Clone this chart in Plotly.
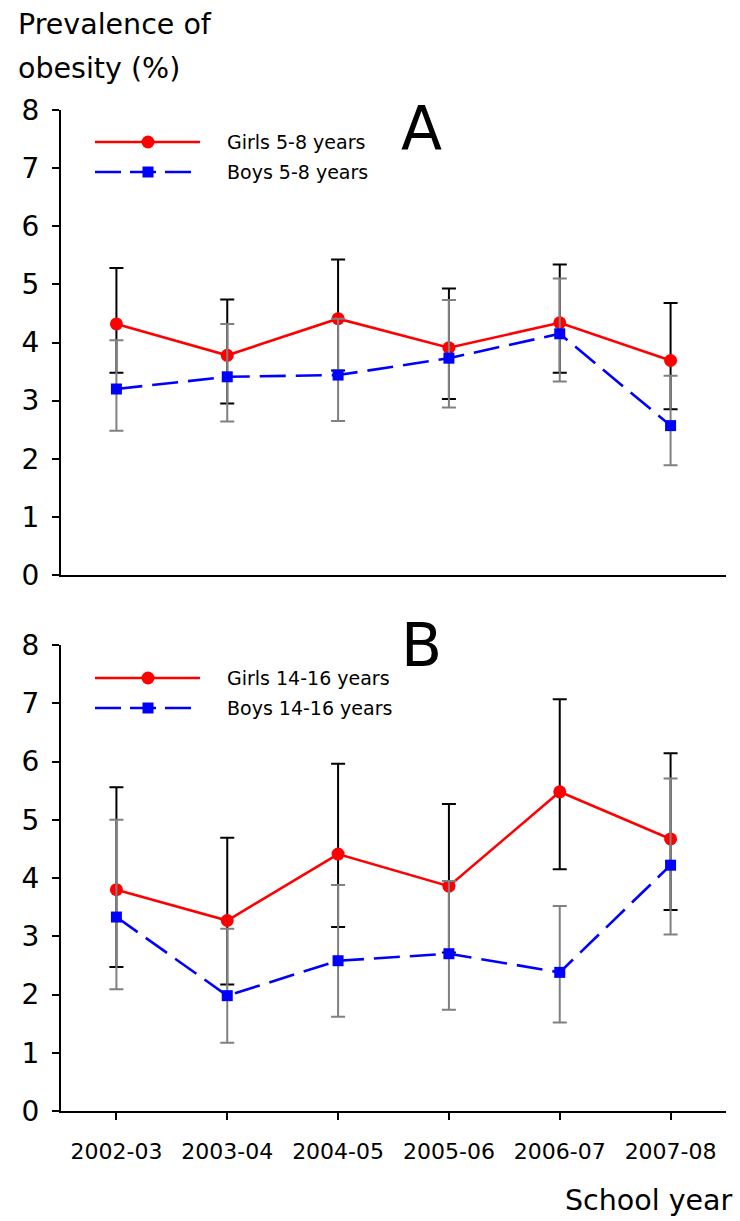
import plotly.graph_objects as go

years = ["2002-03", "2003-04", "2004-05", "2005-06", "2006-07", "2007-08"]

girls_a = [4.32, 3.78, 4.41, 3.91, 4.34, 3.69]
girls_a_hi = [5.28, 4.74, 5.43, 4.93, 5.34, 4.68]
girls_a_lo = [3.48, 2.95, 3.52, 3.03, 3.48, 2.85]
boys_a = [3.20, 3.41, 3.44, 3.73, 4.15, 2.57]
boys_a_hi = [4.04, 4.32, 4.41, 4.73, 5.10, 3.43]
boys_a_lo = [2.48, 2.64, 2.65, 2.88, 3.33, 1.89]

girls_b = [3.80, 3.27, 4.41, 3.86, 5.48, 4.67]
girls_b_hi = [5.56, 4.69, 5.96, 5.27, 7.07, 6.14]
girls_b_lo = [2.47, 2.17, 3.16, 2.72, 4.15, 3.45]
boys_b = [3.33, 1.98, 2.58, 2.70, 2.38, 4.22]
boys_b_hi = [5.00, 3.13, 3.88, 3.95, 3.52, 5.71]
boys_b_lo = [2.09, 1.17, 1.62, 1.74, 1.52, 3.03]

legend_a = ["Girls 5-8 years", "Boys 5-8 years"]
legend_b = ["Girls 14-16 years", "Boys 14-16 years"]
y_ticks = [0, 1, 2, 3, 4, 5, 6, 7, 8]

FONT = "DejaVu Sans"
W, H = 740, 1221
ML, MR, MT, MB = 61, 14, 110, 110
PW = W - ML - MR
PH = H - MT - MB

def px_x(p):
    return (p - ML) / PW

def px_y(p):
    return (H - MB - p) / PH

RED = "#ff0000"
BLUE = "#0000ff"
GRAY = "#808080"

fig = go.Figure()

def add_series(vals, hi, lo, color, dash, symbol, msize, ecolor, xa, ya):
    fig.add_trace(go.Scatter(
        x=years, y=vals, xaxis=xa, yaxis=ya, mode="lines+markers",
        line=dict(color=color, width=2.6, dash=dash),
        marker=dict(color=color, size=msize, symbol=symbol),
        error_y=dict(type="data", symmetric=False,
                     array=[h - v for h, v in zip(hi, vals)],
                     arrayminus=[v - l for v, l in zip(vals, lo)],
                     color=ecolor, thickness=2, width=7),
        showlegend=False, cliponaxis=False))

add_series(girls_a, girls_a_hi, girls_a_lo, RED, "solid", "circle", 13, "#000000", "x", "y")
add_series(boys_a, boys_a_hi, boys_a_lo, BLUE, "26px,10px", "square", 11, GRAY, "x", "y")
add_series(girls_b, girls_b_hi, girls_b_lo, RED, "solid", "circle", 13, "#000000", "x2", "y2")
add_series(boys_b, boys_b_hi, boys_b_lo, BLUE, "26px,10px", "square", 11, GRAY, "x2", "y2")

dom_a = [px_y(575), px_y(110)]
dom_b = [px_y(1111), px_y(645)]

yax = dict(range=[0, 8], tickvals=y_ticks, showline=True, linecolor="black", linewidth=2,
           ticks="outside", ticklen=7, tickwidth=1.5, tickcolor="black", showgrid=False,
           zeroline=False, tickfont=dict(family=FONT, size=28, color="black"),
           ticklabelstandoff=7)
fig.update_layout(
    width=W, height=H, margin=dict(l=ML, r=MR, t=MT, b=MB),
    paper_bgcolor="white", plot_bgcolor="white",
    font=dict(family=FONT, color="black"),
    xaxis=dict(domain=[0, 1], range=[-0.5, 5.5], type="category", showline=True,
               linecolor="black", linewidth=2, showticklabels=False, ticks="",
               showgrid=False, zeroline=False, anchor="y"),
    yaxis=dict(domain=dom_a, anchor="x", **yax),
    xaxis2=dict(domain=[0, 1], range=[-0.5, 5.5], type="category", showline=True,
                linecolor="black", linewidth=2, ticks="outside", ticklen=7, tickwidth=1.5,
                tickcolor="black", showgrid=False, zeroline=False, anchor="y2",
                tickfont=dict(family=FONT, size=22, color="black"), ticklabelstandoff=13),
    yaxis2=dict(domain=dom_b, anchor="x2", **yax),
)

shapes = []
annotations = []

def legend_block(y1, y2, labels):
    shapes.append(dict(type="line", xref="paper", yref="paper",
                       x0=px_x(95), x1=px_x(200), y0=px_y(y1), y1=px_y(y1),
                       line=dict(color=RED, width=2.6)))
    shapes.append(dict(type="circle", xref="paper", yref="paper", xsizemode="pixel",
                       ysizemode="pixel", xanchor=px_x(148), yanchor=px_y(y1),
                       x0=-6.5, x1=6.5, y0=-6.5, y1=6.5, fillcolor=RED, line=dict(width=0)))
    shapes.append(dict(type="line", xref="paper", yref="paper",
                       x0=px_x(95), x1=px_x(191), y0=px_y(y2), y1=px_y(y2),
                       line=dict(color=BLUE, width=2.6, dash="26px,9px")))
    shapes.append(dict(type="rect", xref="paper", yref="paper", xsizemode="pixel",
                       ysizemode="pixel", xanchor=px_x(148), yanchor=px_y(y2),
                       x0=-5.5, x1=5.5, y0=-5.5, y1=5.5, fillcolor=BLUE, line=dict(width=0)))
    for lab, yy in zip(labels, [y1, y2]):
        annotations.append(dict(text=lab, xref="paper", yref="paper", x=px_x(225), y=px_y(yy),
                                xanchor="left", yanchor="middle", showarrow=False,
                                font=dict(family=FONT, size=19, color="black")))

legend_block(142, 172, legend_a)
legend_block(678, 708, legend_b)

def txt(s, x, y, size, xanchor="left", yanchor="middle"):
    annotations.append(dict(text=s, xref="paper", yref="paper", x=px_x(x), y=px_y(y),
                            xanchor=xanchor, yanchor=yanchor, showarrow=False,
                            font=dict(family=FONT, size=size, color="black")))

txt("Prevalence of", 16, 24, 28.5)
txt("obesity (%)", 16, 69, 28.5)
txt("A", 421, 128, 60, xanchor="center")
txt("B", 421, 645, 60, xanchor="center")
txt("School year", 735, 1200, 28.5, xanchor="right")

fig.update_layout(shapes=shapes, annotations=annotations)
fig.write_html("out.html")
